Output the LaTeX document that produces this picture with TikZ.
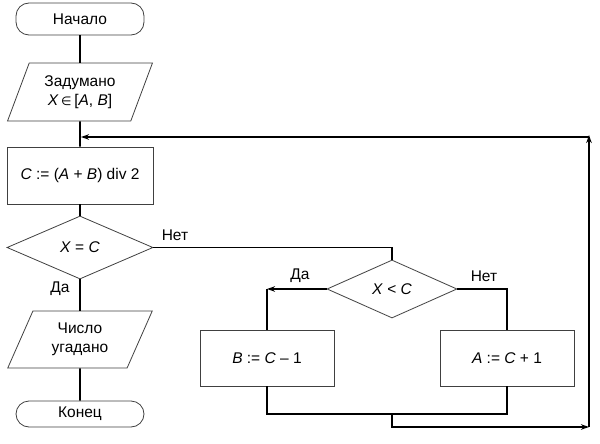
\documentclass[tikz,border=0pt]{standalone}
\usepackage{fontspec}
\setmainfont{Liberation Sans}
\newfontfamily\symfont{DejaVu Sans}
\usetikzlibrary{shapes.geometric,arrows.meta}
\begin{document}
\begin{tikzpicture}[x=1pt,y=-1pt,
  shp/.style={draw=black!75,line width=0.8pt,fill=white,inner sep=0pt,font=\fontsize{15.5}{18.5}\selectfont,align=center},
  term/.style={shp,rectangle,rounded corners=13pt,minimum width=128pt},
  proc/.style={shp,rectangle},
  io/.style={shp,trapezium,trapezium left angle=65,trapezium right angle=115,trapezium stretches=true,minimum width=145pt},
  dec/.style={shp,diamond},
  conn/.style={line width=1.6pt,black},
  arr/.style={conn,-{Stealth[length=8pt,width=5.5pt]}},
  lbl/.style={font=\fontsize{15.5}{18.5}\selectfont}
]
\useasboundingbox (0,0) rectangle (600,444);
\node[term,minimum height=32pt] (start) at (80,19) {Начало};
\node[io,minimum height=58pt] (in) at (80,92) {Задумано\\\textit{X}\,{\symfont\fontsize{12}{14}\selectfont ∈}\,[\textit{A}, \textit{B}]};
\node[proc,minimum width=146pt,minimum height=57pt] (calc) at (80,175.5) {\textit{C} := (\textit{A} + \textit{B}) div 2};
\node[dec,minimum width=146pt,minimum height=63pt] (d1) at (80,247.5) {\textit{X} = \textit{C}};
\node[io,minimum height=57pt] (out) at (80,339.5) {Число\\угадано};
\node[term,minimum height=26pt] (end) at (80,414) {Конец};
\node[dec,minimum width=130pt,minimum height=58pt] (d2) at (392,289) {\textit{X} < \textit{C}};
\node[proc,minimum width=134pt,minimum height=56pt] (b) at (267,358) {\textit{B} := \textit{C} – 1};
\node[proc,minimum width=134pt,minimum height=56pt] (a) at (507,358) {\textit{A} := \textit{C} + 1};

\coordinate (j) at (80,137);
\coordinate (m1) at (392,414);
\coordinate (c2) at (392,427);
\coordinate (c3) at (589,427);
\coordinate (c4) at (589,137);

\draw[conn] (start) -- (in);
\draw[conn] (in) -- (calc);
\draw[conn] (calc) -- (d1);
\draw[conn] (d1) -- (out);
\draw[conn] (out) -- (end);
\draw[conn] (d1.east) -| (d2.north);
\draw[arr] (d2.west) -- (b.north |- d2.west);
\draw[conn] (b.north |- d2.west) -- (b.north);
\draw[conn] (d2.east) -| (a.north);
\draw[conn] (b.south) |- (m1) -| (a.south);
\draw[arr] (m1) -- (c2) -- (c3);
\draw[arr] (c3) -- ([yshift=2pt]c4);
\draw[arr] (c4) -- ([xshift=1pt]j);

\node[lbl] at (175,235) {Нет};
\node[lbl] at (60,289) {Да};
\node[lbl] at (300,276) {Да};
\node[lbl] at (484,276) {Нет};
\end{tikzpicture}
\end{document}
